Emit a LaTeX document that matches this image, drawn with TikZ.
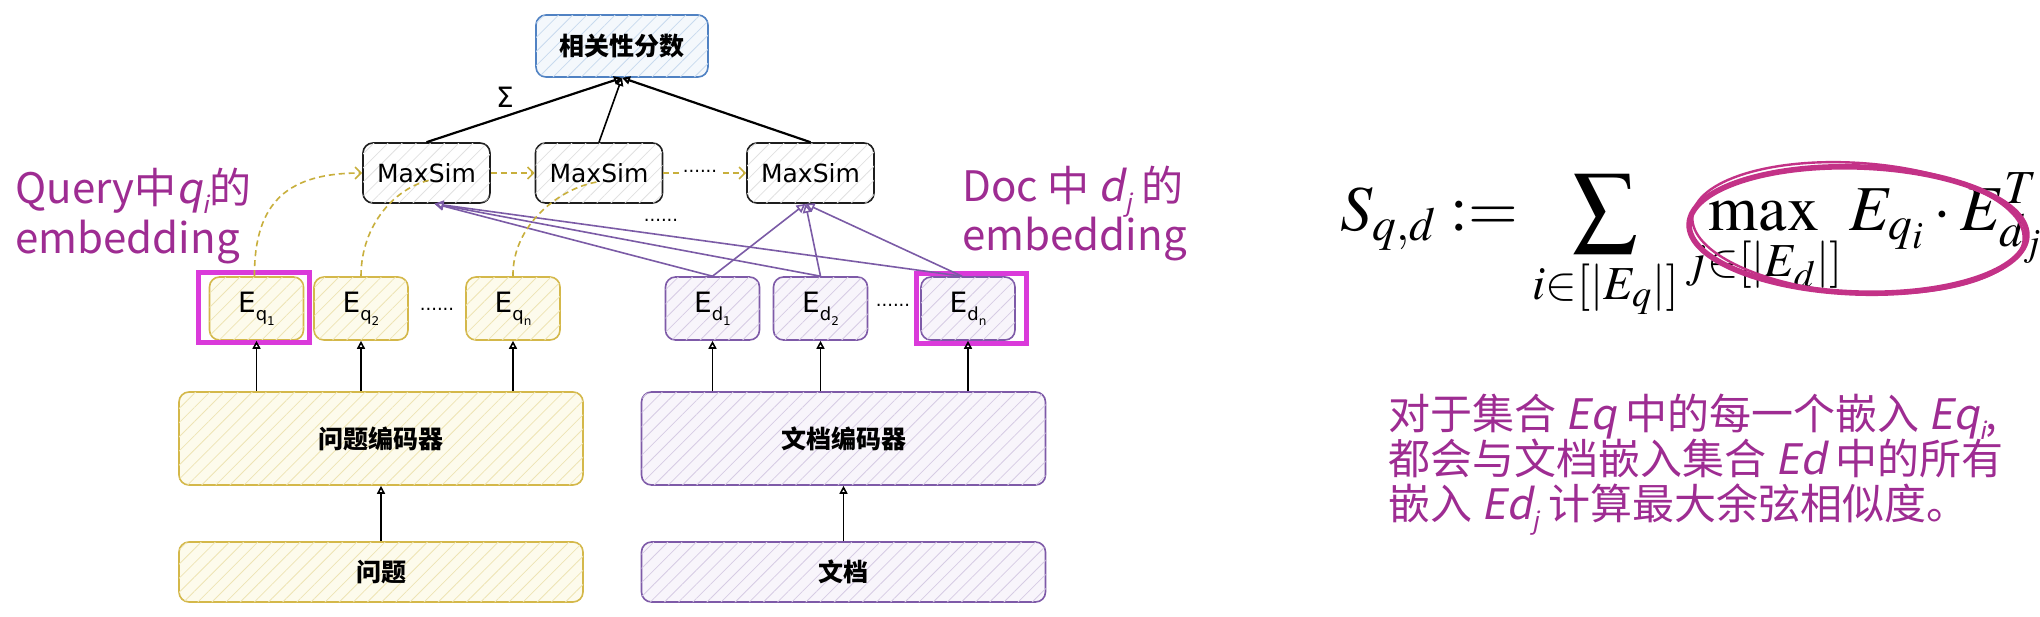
\documentclass[tikz,border=0pt]{standalone}
\usepackage{mathptmx}
\usepackage[no-math]{fontspec}
\usetikzlibrary{arrows.meta,patterns.meta,calc}
\newfontfamily\cjk{Noto Sans CJK SC}
\newfontfamily\cjkit[FakeSlant=0.2]{Noto Sans CJK SC}
\newfontfamily\labfont{DejaVu Sans}
\definecolor{ydraw}{RGB}{212,184,74}
\definecolor{yfill}{RGB}{253,251,236}
\definecolor{yhatch}{RGB}{238,228,180}
\definecolor{pdraw}{RGB}{126,90,168}
\definecolor{pfill}{RGB}{248,245,251}
\definecolor{phatch}{RGB}{214,204,228}
\definecolor{bdraw}{RGB}{80,130,195}
\definecolor{bfill}{RGB}{244,248,252}
\definecolor{bhatch}{RGB}{200,218,238}
\definecolor{kdraw}{RGB}{30,30,30}
\definecolor{khatch}{RGB}{225,225,225}
\definecolor{hlmag}{RGB}{218,58,218}
\definecolor{txtpurple}{RGB}{158,44,146}
\definecolor{ellmag}{RGB}{195,50,135}
\definecolor{ydash}{RGB}{200,175,60}
\definecolor{parrow}{RGB}{123,91,166}
\newcommand{\Elab}[2]{E\raisebox{-0.3em}{\fontsize{9}{10}\selectfont #1\raisebox{-0.25em}{\fontsize{6}{7}\selectfont #2}}}
\tikzset{
  boxbase/.style={rounded corners=5pt, line width=0.8pt, inner sep=0pt, align=center},
  ybox/.style={boxbase, draw=ydraw, fill=yfill, postaction={pattern={Lines[angle=45,distance=5pt,line width=0.4pt]}, pattern color=yhatch}},
  pbox/.style={boxbase, draw=pdraw, fill=pfill, postaction={pattern={Lines[angle=45,distance=5pt,line width=0.4pt]}, pattern color=phatch}},
  bbox/.style={boxbase, draw=bdraw, fill=bfill, postaction={pattern={Lines[angle=45,distance=5pt,line width=0.4pt]}, pattern color=bhatch}},
  kbox/.style={boxbase, draw=kdraw, fill=white, postaction={pattern={Lines[angle=45,distance=5pt,line width=0.4pt]}, pattern color=khatch}},
  msbox/.style={kbox, minimum width=63.5pt, minimum height=30pt, font=\labfont\fontsize{12.5}{14}\selectfont},
  ebox/.style={minimum width=47pt, minimum height=31.5pt, font=\labfont\fontsize{14}{16}\selectfont},
  encbox/.style={minimum width=202pt, minimum height=46.5pt, font=\cjk\bfseries\fontsize{12.5}{14}\selectfont},
  inbox/.style={minimum width=202pt, minimum height=30pt, font=\cjk\bfseries\fontsize{12.5}{14}\selectfont},
  hlframe/.style={draw=hlmag, line width=2.5pt, inner sep=0pt},
  blk/.style={draw=black, line width=0.8pt, -{Triangle[open,length=4pt,width=4pt]}},
  parr/.style={draw=parrow, line width=0.8pt, -{Triangle[open,length=4.5pt,width=4.5pt]}},
  yarr/.style={draw=ydash, line width=0.8pt, dash pattern=on 3pt off 2pt, -{Straight Barb[length=3pt,width=6pt]}},
  ycurve/.style={draw=ydash, line width=0.8pt, dash pattern=on 3pt off 2pt},
  dots/.style={font=\labfont\fontsize{9}{10}\selectfont, inner sep=1pt},
  lbl/.style={text=txtpurple, font=\cjk\fontsize{21}{24}\selectfont, inner sep=0pt, anchor=base west},
  rlbl/.style={text=txtpurple, font=\cjk\fontsize{21}{24}\selectfont, inner sep=0pt, anchor=base west}
}
\begin{document}
\begin{tikzpicture}[x=0.5pt,y=-0.5pt]
\useasboundingbox (0,0) rectangle (2040,616);
\fill[white] (0,0) rectangle (2040,616);

% top score box
\node[bbox, minimum width=86pt, minimum height=31pt, font=\cjk\bfseries\fontsize{12.5}{14}\selectfont] (rel) at (622,46) {相关性分数};

% MaxSim boxes
\node[msbox] (ms1) at (426.5,173) {MaxSim};
\node[msbox] (ms2) at (599,173) {MaxSim};
\node[msbox] (ms3) at (810.5,173) {MaxSim};

% embedding boxes
\node[ybox, ebox] (eq1) at (256.5,308.5) {\Elab{q}{1}};
\node[ybox, ebox] (eq2) at (361,308.5) {\Elab{q}{2}};
\node[ybox, ebox] (eqn) at (513,308.5) {\Elab{q}{n}};
\node[pbox, ebox] (ed1) at (712.5,308.5) {\Elab{d}{1}};
\node[pbox, ebox] (ed2) at (820.5,308.5) {\Elab{d}{2}};
\node[pbox, ebox] (edn) at (968,308.5) {\Elab{d}{n}};

% highlight frames
\node[hlframe, minimum width=55.5pt, minimum height=35pt] (hl1) at (253.5,307) {};
\node[hlframe, minimum width=55pt, minimum height=35pt] (hl2) at (971,308) {};

% encoders and inputs
\node[ybox, encbox] (qenc) at (381,438.5) {问题编码器};
\node[pbox, encbox] (denc) at (843.5,438.5) {文档编码器};
\node[ybox, inbox] (qin) at (381,572) {问题};
\node[pbox, inbox] (din) at (843.5,572) {文档};

% dots
\node[dots] (dq) at (437,309) {......};
\node[dots] (dd) at (893,305) {......};
\node[dots] (dm) at (661,220) {......};

% sigma
\node[font=\labfont\fontsize{14}{16}\selectfont, inner sep=0pt] (sig) at (505,97) {Σ};

% black arrows
\draw[blk] (qin) -- (qenc);
\draw[blk] (din) -- (denc);
\draw[blk] (eq1.south |- qenc.north) -- (eq1.south);
\draw[blk] (eq2.south |- qenc.north) -- (eq2.south);
\draw[blk] (eqn.south |- qenc.north) -- (eqn.south);
\draw[blk] (ed1.south |- denc.north) -- (ed1.south);
\draw[blk] (ed2.south |- denc.north) -- (ed2.south);
\draw[blk] (edn.south |- denc.north) -- (edn.south);
\draw[blk, line width=1.1pt] (ms1.north) -- (rel.south);
\draw[blk] (ms2.north) -- (rel.south);
\draw[blk, line width=1.1pt] (ms3.north) -- (rel.south);

% purple arrows
\coordinate (m1in) at ($(ms1.south)+(8,0)$);
\coordinate (m3in) at ($(ms3.south)+(-5,0)$);
\coordinate (ednt) at ($(edn.north)+(-6,0)$);
\draw[parr] (ed1.north) -- (m1in);
\draw[parr] (ed2.north) -- (m1in);
\draw[parr] (ednt) -- (m1in);
\draw[parr] (ed1.north) -- (m3in);
\draw[parr] (ed2.north) -- (m3in);
\draw[parr] (ednt) -- (m3in);

% yellow dashed
\coordinate (c1) at (430,180);
\coordinate (c2) at (597,182);
\draw[yarr] ($(eq1.north)+(-2,0)$) .. controls (254,200) and (290,173) .. (ms1.west);
\draw[ycurve] (eq2.north) .. controls (361,225) and (395,188) .. (c1);
\draw[ycurve] (eqn.north) .. controls (512,225) and (560,188) .. (c2);
\draw[yarr] (ms1.east) -- (ms2.west);
\draw[yarr] (ms2.east) -- (ms3.west);
\node[dots, fill=white] (dms) at (700,171) {......};

% purple labels
\node[lbl] (ql1) at (15,203) {Query中{\cjkit q\raisebox{-0.25em}{\fontsize{12}{12}\selectfont i}}的};
\node[lbl] (ql2) at (15,253) {embedding};
\node[lbl] (dl1) at (962,201) {Doc 中 {\cjkit d\raisebox{-0.25em}{\fontsize{12}{12}\selectfont j}} 的};
\node[lbl] (dl2) at (962,250) {embedding};

% formula
\node[inner sep=0pt, anchor=base west, font=\fontsize{32}{37}\selectfont] (form) at (1340,230)
  {$\displaystyle S_{q,d} \mathrel{:=} \sum_{i\in[|E_q|]} \max_{j\in[|E_d|]} E_{q_i}\cdot E^{T}_{d_j}$};
\draw[ellmag, line width=2.8pt, rotate around={-2:(1858,230)}] (1858,230) ellipse [x radius=84.5pt, y radius=31.5pt];
\draw[ellmag, line width=1.2pt, rotate around={-4:(1858,228)}] (1858,228) ellipse [x radius=83pt, y radius=32.5pt];

% explanation text
\node[rlbl] (r1) at (1388,429) {对于集合 {\cjkit Eq} 中的每一个嵌入 {\cjkit Eq\raisebox{-0.25em}{\fontsize{12}{12}\selectfont i}},};
\node[rlbl] (r2) at (1388,474) {都会与文档嵌入集合 {\cjkit Ed} 中的所有};
\node[rlbl] (r3) at (1388,519) {嵌入 {\cjkit Ed\raisebox{-0.25em}{\fontsize{12}{12}\selectfont j}} 计算最大余弦相似度。};
\end{tikzpicture}
\end{document}
